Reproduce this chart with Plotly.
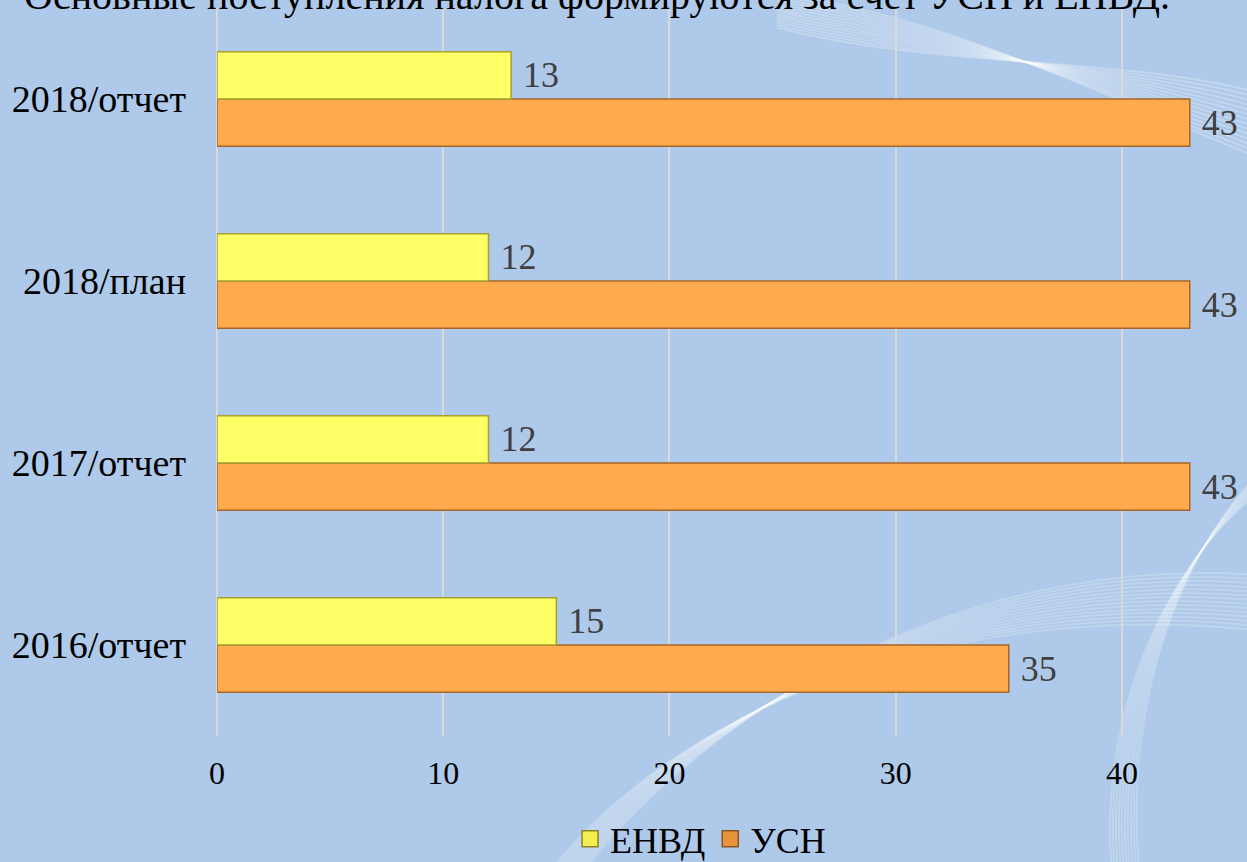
import plotly.graph_objects as go

categories = ["2016/отчет", "2017/отчет", "2018/план", "2018/отчет"]
envd = [15, 12, 12, 13]
usn = [35, 43, 43, 43]
series_names = ["ЕНВД", "УСН"]
title_text = "Основные поступления налога формируются за счет УСН и ЕНВД."
x_ticks = [0, 10, 20, 30, 40]

FONT = "Liberation Serif"
YEL = "#FFFF66"
ORA = "#FFAA4C"

fig = go.Figure()
fig.add_trace(go.Bar(
    y=categories, x=usn, name=series_names[1], orientation="h",
    marker=dict(color=ORA, line=dict(color="#A8652A", width=1.5)),
    text=[str(v) for v in usn], texttemplate="\u00a0%{text}", textposition="outside",
    textfont=dict(family=FONT, size=36, color="#404040"),
    cliponaxis=False, showlegend=False,
))
fig.add_trace(go.Bar(
    y=categories, x=envd, name=series_names[0], orientation="h",
    marker=dict(color=YEL, line=dict(color="#A8A030", width=1.5)),
    text=[str(v) for v in envd], texttemplate="\u00a0%{text}", textposition="outside",
    textfont=dict(family=FONT, size=36, color="#404040"),
    cliponaxis=False, showlegend=False,
))
# legend entries
fig.add_trace(go.Scatter(x=[None], y=[None], mode="markers", name=series_names[0],
                         marker=dict(symbol="square", size=18, color="#F2EE50",
                                     line=dict(color="#8A8420", width=1.5)), legendrank=1))
fig.add_trace(go.Scatter(x=[None], y=[None], mode="markers", name=series_names[1],
                         marker=dict(symbol="square", size=18, color="#E8943A",
                                     line=dict(color="#8A5520", width=1.5)), legendrank=2))

# decorative swirls
shapes = []
for i in range(14):
    o = i * 6
    shapes.append(dict(
        type="path", xref="paper", yref="paper", layer="below",
        path=f"M 0.55,{1.02 - o*0.0006} C 0.72,{0.99 - o*0.001} 0.9,{0.86 + o*0.001} 1.05,{0.78 + o*0.0012}",
        line=dict(color="rgba(255,255,255,0.25)", width=2),
    ))
for i in range(14):
    o = i * 6
    shapes.append(dict(
        type="path", xref="paper", yref="paper", layer="below",
        path=f"M {0.32 + o*0.0004},-0.2 C {0.45 + o*0.0005},0.05 {0.75},{0.2 + o*0.0008} 1.05,{0.14 + o*0.001}",
        line=dict(color="rgba(255,255,255,0.22)", width=2),
    ))
for i in range(10):
    o = i * 5
    shapes.append(dict(
        type="path", xref="paper", yref="paper", layer="below",
        path=f"M {0.88 + o*0.0006},-0.2 C {0.86 + o*0.0006},0.05 {0.95},{0.28} 1.05,{0.36 + o*0.0008}",
        line=dict(color="rgba(255,255,255,0.22)", width=2),
    ))

fig.update_layout(
    width=1247, height=862,
    barmode="group", bargap=0.48, bargroupgap=0.0,
    paper_bgcolor="#AEC9E9", plot_bgcolor="rgba(0,0,0,0)",
    margin=dict(l=217, r=12, t=8, b=126, autoexpand=False),
    font=dict(family=FONT, color="#000000"),
    showlegend=True,
    legend=dict(orientation="h", x=0.475, xanchor="center", y=-0.1, yanchor="top",
                font=dict(family=FONT, size=36, color="#000000"),
                bgcolor="rgba(0,0,0,0)", itemwidth=30, tracegroupgap=0, itemsizing="trace"),
    xaxis=dict(range=[0, 45], tickvals=x_ticks, showgrid=True, gridcolor="#D9D9D9", gridwidth=1.5,
               zeroline=True, zerolinecolor="#D9D9D9", zerolinewidth=1.5, showline=False,
               tickfont=dict(family=FONT, size=32, color="#000000"), ticklabelstandoff=15,
               automargin=False),
    yaxis=dict(type="category", categoryorder="array", categoryarray=categories,
               showgrid=False, showline=False, zeroline=False, automargin=False,
               tickfont=dict(family=FONT, size=38, color="#000000"), ticklabelstandoff=30),
    shapes=shapes,
    annotations=[dict(text=title_text, xref="paper", yref="paper", x=-0.192, xanchor="left",
                      y=1.0165, yanchor="middle", showarrow=False,
                      font=dict(family=FONT, size=40, color="#000000"))],
)

fig.write_html("out.html", config={"displayModeBar": False},
               post_script="document.body.style.margin='0';document.body.style.padding='0';")
